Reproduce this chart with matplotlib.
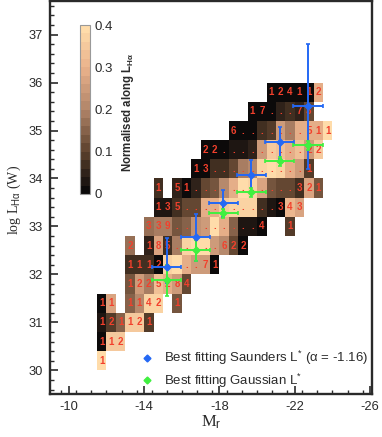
import numpy as np
import matplotlib
matplotlib.use('Agg')
import matplotlib.pyplot as plt
from matplotlib.colors import LinearSegmentedColormap
from matplotlib.ticker import MultipleLocator

plt.rcParams['font.family'] = ['Liberation Sans', 'DejaVu Sans']
plt.rcParams['axes.unicode_minus'] = False
plt.rcParams['mathtext.fontset'] = 'custom'
plt.rcParams['mathtext.rm'] = 'Liberation Sans'
plt.rcParams['mathtext.it'] = 'Liberation Sans'
plt.rcParams['mathtext.bf'] = 'Liberation Sans:bold'

n = np.nan
# bin edges of the grid
mag_edges = [-11.5 - 0.5 * i for i in range(26)]
lum_edges = [30.0 + 0.4 * j for j in range(16)]

# normalised value per cell, bottom row first
cells = [
    [.38, n, n, n, n, n, n, n, n, n, n, n, n, n, n, n, n, n, n, n, n, n, n, n, n],
    [.01, .34, .34, n, n, n, n, n, n, n, n, n, n, n, n, n, n, n, n, n, n, n, n, n, n],
    [.04, .09, .16, .34, .34, .09, n, n, n, n, n, n, n, n, n, n, n, n, n, n, n, n, n, n, n],
    [.01, .26, n, .14, .22, .36, .36, n, .12, n, n, n, n, n, n, n, n, n, n, n, n, n, n, n, n],
    [n, n, n, .12, .24, .18, .33, .28, .24, .10, n, n, n, n, n, n, n, n, n, n, n, n, n, n, n],
    [n, n, n, .06, .07, .08, .02, .36, .38, .28, .25, .25, .01, n, n, n, n, n, n, n, n, n, n, n, n],
    [n, n, n, .17, n, .05, .27, .08, .18, .36, .40, .38, .24, .22, .10, .01, n, n, n, n, n, n, n, n, n],
    [n, n, n, n, n, .17, .18, .18, .13, .15, .23, .25, .38, .28, .14, .04, .03, .01, n, n, .09, n, n, n, n],
    [n, n, n, n, n, n, .03, .04, .06, .10, .10, .28, .30, .34, .36, .36, .36, .08, .04, .01, .32, .26, n, n, n],
    [n, n, n, n, n, n, .07, n, .05, .01, .05, .10, .12, .20, .28, .38, .36, .26, .12, .11, .10, .06, .26, .13, n],
    [n, n, n, n, n, n, n, n, n, n, .02, .02, .06, .07, .10, .18, .20, .36, .38, .36, .30, .24, .09, n, n],
    [n, n, n, n, n, n, n, n, n, n, n, .01, .01, .01, .03, .04, .05, .24, .34, .33, .28, .33, .25, .34, n],
    [n, n, n, n, n, n, n, n, n, n, n, n, n, n, .01, .01, .01, .06, .09, .24, .19, .28, .30, .30, .38],
    [n, n, n, n, n, n, n, n, n, n, n, n, n, n, n, n, .01, .01, .02, .05, .06, .05, .10, n, n],
    [n, n, n, n, n, n, n, n, n, n, n, n, n, n, n, n, n, n, .01, .01, .01, .01, .02, .30, n],
]

# counts printed in the cells, same order, one character per column
cell_labels = [
    '1',
    '112',
    '121121',
    '11 1142 1',
    '   1225284',
    '   1112....71',
    '   2 185.....622',
    '     339.........4  1',
    '      135..........343',
    '      1 51...........321',
    '          13..........1',
    '           22.........22',
    '              6.......511',
    '                17...73',
    '                  124112',
]

# best fitting points
saunders_mag = [-15.2, -16.73, -18.2, -19.7, -21.2, -22.7]
saunders_lum = [32.15, 32.79, 33.49, 34.08, 34.75, 35.51]
saunders_lum_low = [31.83, 32.27, 33.2, 33.7, 34.4, 34.2]
saunders_lum_high = [32.76, 33.26, 33.75, 34.39, 35.07, 36.8]
gauss_mag = [-15.2, -16.73, -18.2, -19.7, -21.2, -22.7]
gauss_lum = [31.89, 32.51, 33.27, 33.71, 34.36, 34.69]
gauss_lum_low = [31.54, 32.27, 33.18, 33.62, 34.27, 34.6]
gauss_lum_high = [32.2, 32.72, 33.36, 33.8, 34.45, 34.78]
mag_err = [0.78, 0.78, 0.78, 0.78, 0.76, 0.8]

xticks = [-10, -14, -18, -22, -26]
yticks = [30, 31, 32, 33, 34, 35, 36, 37]
cbar_ticks = [0, 0.1, 0.2, 0.3, 0.4]

cmap = LinearSegmentedColormap.from_list(
    'peach', ['#0c0a0a', '#60442f', '#b08468', '#e8b08a', '#ffdcaa'], N=20)
ink = '#2a2a2a'
blue = '#2468f4'
green = '#40f040'

fig = plt.figure(figsize=(3.82, 4.37), dpi=100)
ax = fig.add_axes([50 / 382, 1 - 394.3 / 437, (372 - 50) / 382, (394.3 - 1) / 437])

mesh = ax.pcolormesh(mag_edges, lum_edges, np.ma.masked_invalid(cells),
                     cmap=cmap, vmin=0, vmax=0.4)

for j, row in enumerate(cell_labels):
    for i, lab in enumerate(row):
        if lab != ' ':
            ax.text(mag_edges[i] - 0.25, lum_edges[j] + 0.2, lab, color='#f2402c',
                    fontsize=7, fontweight='bold', ha='center', va='center')

for mags, lums, low, high, col in [
        (saunders_mag, saunders_lum, saunders_lum_low, saunders_lum_high, blue),
        (gauss_mag, gauss_lum, gauss_lum_low, gauss_lum_high, green)]:
    yerr = [np.array(lums) - np.array(low), np.array(high) - np.array(lums)]
    ax.errorbar(mags, lums, xerr=mag_err, yerr=yerr, fmt='D', ms=3.5, color=col,
                elinewidth=1.4, capsize=1.5, capthick=1.2, zorder=5)

ax.plot([], [], 'D', ms=3.5, color=blue, label=r'Best fitting Saunders L$^{*}$ ($\alpha$ = -1.16)')
ax.plot([], [], 'D', ms=3.5, color=green, label=r'Best fitting Gaussian L$^{*}$')
ax.legend(loc='lower left', bbox_to_anchor=(0.229, -0.016), frameon=False, fontsize=9.5,
          handletextpad=0.25, labelspacing=0.34, labelcolor=ink, borderaxespad=0.4)

ax.set_xlim(-9, -26.1)
ax.set_ylim(29.5, 37.7)
ax.set_xticks(xticks)
ax.set_yticks(yticks)
ax.xaxis.set_minor_locator(MultipleLocator(0.8))
ax.yaxis.set_minor_locator(MultipleLocator(0.2))
ax.tick_params(which='major', direction='in', length=6, width=1.2, color=ink,
               labelcolor=ink, labelsize=9.3, pad=5)
ax.tick_params(which='minor', direction='in', length=3, width=1.0, color=ink)
for s in ax.spines.values():
    s.set_linewidth(1.7)
    s.set_color(ink)

ax.set_xlabel(r'M$_{\rm r}$', family='Liberation Serif', fontsize=12, color=ink, labelpad=0)
fig.text(14 / 382, 1 - 200 / 437, r'log L$_{\rm H\alpha}$ (W)', rotation=90, ha='center',
         va='center', family='Liberation Serif', fontsize=10, color=ink)

cax = fig.add_axes([80 / 382, 1 - 194 / 437, 10 / 382, 169 / 437])
cbar = fig.colorbar(mesh, cax=cax, ticks=cbar_ticks)
cbar.ax.set_yticklabels(['0', '0.1', '0.2', '0.3', '0.4'])
cbar.ax.tick_params(length=0, labelsize=9.5, labelcolor=ink, pad=3)
cbar.outline.set_edgecolor('#999999')
fig.text(128 / 382, 1 - 112 / 437, r'Normalised along L$_{\bf H\alpha}$', rotation=90,
         ha='center', va='center', fontsize=8.3, fontweight='bold', color=ink)

fig.savefig('out.png', dpi=100)
